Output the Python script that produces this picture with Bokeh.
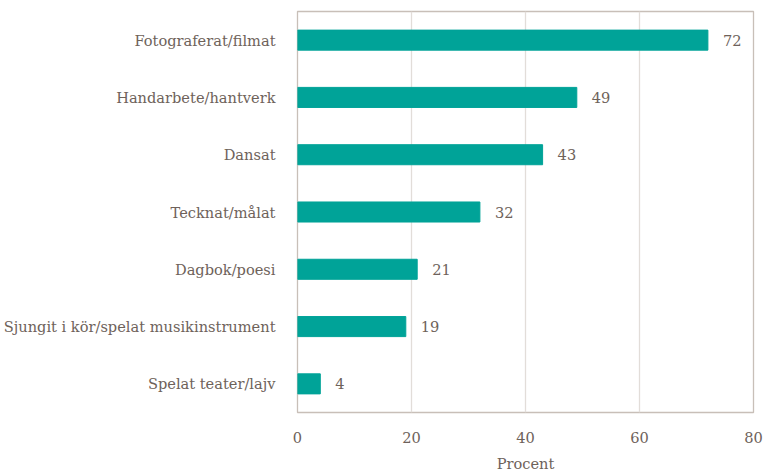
from bokeh.plotting import figure
from bokeh.models import ColumnDataSource, Range1d, FixedTicker, FactorRange
from bokeh.core.properties import value
from bokeh.embed import file_html
from bokeh.resources import INLINE

categories = [
    "Fotograferat/filmat",
    "Handarbete/hantverk",
    "Dansat",
    "Tecknat/målat",
    "Dagbok/poesi",
    "Sjungit i kör/spelat musikinstrument",
    "Spelat teater/lajv",
]
values = [72, 49, 43, 32, 21, 19, 4]
x_ticks = [0, 20, 40, 60, 80]
x_label = "Procent"

FONT = "DejaVu Serif"
FS = "14.6px"
TEXT = "#6E625A"
BAR = "#00A398"

src = ColumnDataSource(dict(cat=categories, val=values, lab=[str(v) for v in values]))

p = figure(
    width=764, height=475,
    y_range=FactorRange(*categories[::-1]),
    x_range=Range1d(0, 80),
    output_backend="svg", toolbar_location=None,
    min_border_left=297, min_border_right=11, min_border_top=11, min_border_bottom=63,
)

p.hbar(y="cat", right="val", left=0, height=0.35, color=BAR, source=src)
p.text(x="val", y="cat", text="lab", source=src, x_offset=15,
       text_align="left", text_baseline="middle",
       text_font=value(FONT), text_font_size=FS, text_color=TEXT)

p.outline_line_color = "#C8BFB8"
p.outline_line_width = 1.3

p.xaxis.ticker = FixedTicker(ticks=x_ticks)
p.xaxis.axis_label = x_label
for ax in (p.xaxis, p.yaxis):
    ax.axis_line_color = None
    ax.major_tick_line_color = None
    ax.minor_tick_line_color = None
    ax.major_label_text_font = FONT
    ax.major_label_text_font_size = FS
    ax.major_label_text_color = TEXT
    ax.axis_label_text_font = FONT
    ax.axis_label_text_font_size = FS
    ax.axis_label_text_color = TEXT
    ax.axis_label_text_font_style = "normal"
p.xaxis.major_label_standoff = 13
p.xaxis.axis_label_standoff = 9
p.yaxis.major_label_standoff = 16

p.xgrid.grid_line_color = "#E2DDD9"
p.xgrid.grid_line_width = 1.3
p.ygrid.grid_line_color = None

open("out.html", "w").write(file_html(p, INLINE))
